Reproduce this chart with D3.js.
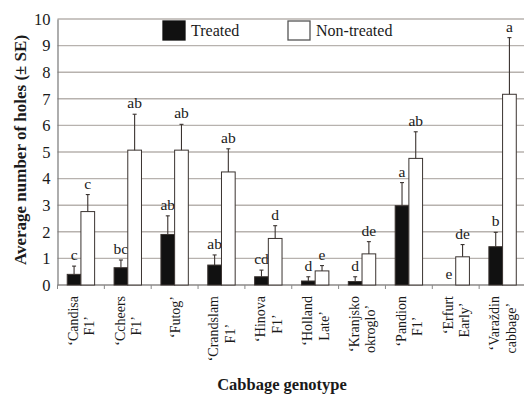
<!DOCTYPE html>
<html>
<head>
<meta charset="utf-8">
<script src="https://cdn.jsdelivr.net/npm/d3@7"></script>
<style>
  html, body { margin: 0; padding: 0; background: #fff; }
  svg { display: block; }
  text { font-family: "Liberation Serif", "Times New Roman", serif; fill: #1a1a1a; }
</style>
</head>
<body>
<svg id="chart" width="524" height="394"></svg>
<script>
// Cabbage genotypes, each label split into its two printed lines
const genotypes = [
  ["\u2018Candisa", "F1\u2019"],
  ["\u2018Ccheers", "F1\u2019"],
  ["\u2018Futog\u2019"],
  ["\u2018Crandslam", "F1\u2019"],
  ["\u2018Hinova", "F1\u2019"],
  ["\u2018Holland", "Late\u2019"],
  ["\u2018Kranjsko", "okroglo\u2019"],
  ["\u2018Pandion", "F1\u2019"],
  ["\u2018Erfurt", "Early\u2019"],
  ["\u2018Vara\u017Edin", "cabbage\u2019"]
];
const seriesNames = ["Treated", "Non-treated"];

// Mean number of holes and standard errors
const treatedMean    = [0.40, 0.65, 1.90, 0.75, 0.31, 0.15, 0.13, 2.98, 0.00, 1.44];
const treatedSE      = [0.31, 0.29, 0.70, 0.38, 0.25, 0.16, 0.18, 0.87, 0.00, 0.54];
const nonTreatedMean = [2.76, 5.07, 5.07, 4.25, 1.75, 0.53, 1.17, 4.76, 1.06, 7.17];
const nonTreatedSE   = [0.64, 1.35, 0.97, 0.87, 0.48, 0.20, 0.46, 1.00, 0.46, 2.13];

// Significance letters
const treatedLetters    = ["c", "bc", "ab", "ab", "cd", "d", "d", "a", "e", "b"];
const nonTreatedLetters = ["c", "ab", "ab", "ab", "d", "e", "de", "ab", "de", "a"];

const yTicks = [0, 1, 2, 3, 4, 5, 6, 7, 8, 9, 10];

const svg = d3.select("#chart");
const plotLeft = 57.5, plotRight = 526, plotTop = 19, plotBottom = 285;

const keys = genotypes.map((g, i) => i);
const x0 = d3.scaleBand().domain(keys).range([plotLeft, plotRight]).padding(0);
const x1 = d3.scaleBand().domain(seriesNames).range([0, x0.bandwidth()])
  .paddingInner(0).paddingOuter(0.71);
const y = d3.scaleLinear().domain([0, 10]).range([plotBottom, plotTop]);

// horizontal gridlines
svg.append("g").selectAll("line").data(yTicks).join("line")
  .attr("x1", plotLeft).attr("x2", 524)
  .attr("y1", d => y(d)).attr("y2", d => y(d))
  .attr("stroke", "#b7b2ae").attr("stroke-width", 1.4);

// y axis
const yAxis = d3.axisLeft(y).tickValues(yTicks).tickSize(0).tickPadding(7);
const gy = svg.append("g").attr("transform", `translate(${plotLeft},0)`).call(yAxis);
gy.select(".domain").attr("stroke", "#777").attr("stroke-width", 1.2);
gy.selectAll("text").attr("font-size", 16.5).attr("fill", "#1a1a1a")
  .style("font-family", '"Liberation Serif", serif');

// x axis with ticks between categories
const gx = svg.append("g").attr("transform", `translate(0,${plotBottom})`);
gx.append("line").attr("x1", plotLeft).attr("x2", 524).attr("y1", 0).attr("y2", 0)
  .attr("stroke", "#888").attr("stroke-width", 1.2);
gx.selectAll("line.tick").data(keys).join("line").attr("class", "tick")
  .attr("x1", d => x0(d)).attr("x2", d => x0(d)).attr("y1", 0).attr("y2", 4)
  .attr("stroke", "#888").attr("stroke-width", 1);

const rows = keys.map(i => ({
  i,
  bars: [
    { s: "Treated", v: treatedMean[i], se: treatedSE[i], lab: treatedLetters[i] },
    { s: "Non-treated", v: nonTreatedMean[i], se: nonTreatedSE[i], lab: nonTreatedLetters[i] }
  ]
}));

const groups = svg.append("g").selectAll("g").data(rows).join("g")
  .attr("transform", d => `translate(${x0(d.i)},0)`);

const bars = groups.selectAll("g").data(d => d.bars).join("g");

bars.filter(d => d.v > 0).append("rect")
  .attr("x", d => x1(d.s)).attr("width", x1.bandwidth())
  .attr("y", d => y(d.v)).attr("height", d => y(0) - y(d.v))
  .attr("fill", d => d.s === "Treated" ? "#111" : "#fff")
  .attr("stroke", "#3a3330").attr("stroke-width", 1);

// upper error bars with a small cap
const eb = bars.filter(d => d.se > 0);
eb.append("line")
  .attr("x1", d => x1(d.s) + x1.bandwidth() / 2).attr("x2", d => x1(d.s) + x1.bandwidth() / 2)
  .attr("y1", d => y(d.v)).attr("y2", d => y(d.v + d.se))
  .attr("stroke", "#3a3330").attr("stroke-width", 1.1);
eb.append("line")
  .attr("x1", d => x1(d.s) + x1.bandwidth() / 2 - 2).attr("x2", d => x1(d.s) + x1.bandwidth() / 2 + 2)
  .attr("y1", d => y(d.v + d.se)).attr("y2", d => y(d.v + d.se))
  .attr("stroke", "#3a3330").attr("stroke-width", 1.1);

// significance letters
bars.append("text")
  .attr("x", d => x1(d.s) + x1.bandwidth() / 2)
  .attr("y", d => y(d.v + d.se) - 6)
  .attr("text-anchor", "middle").attr("font-size", 15.5)
  .text(d => d.lab);

// rotated category labels
const labG = svg.append("g").selectAll("g").data(rows).join("g")
  .attr("transform", d => `translate(${x0(d.i) + x0.bandwidth() / 2},296)`);
labG.each(function(d) {
  const g = d3.select(this);
  const lines = genotypes[d.i];
  const fs = 14;
  if (lines.length === 1) {
    g.append("text").attr("transform", `translate(${fs * 0.35},0) rotate(-90)`)
      .attr("text-anchor", "end").attr("font-size", fs).text(lines[0]);
  } else {
    const t1 = g.append("text").attr("transform", `translate(${-8 + fs * 0.35},0) rotate(-90)`)
      .attr("text-anchor", "end").attr("font-size", fs).text(lines[0]);
    const len = t1.node().getComputedTextLength();
    g.append("text").attr("transform", `translate(${8.5 + fs * 0.35},0) rotate(-90)`)
      .attr("x", -(len / 2 + 5))
      .attr("text-anchor", "middle").attr("font-size", fs).text(lines[1]);
  }
});

// axis titles
svg.append("text").attr("transform", "translate(26,150) rotate(-90)")
  .attr("text-anchor", "middle").attr("font-size", 17).attr("font-weight", "bold")
  .text("Average number of holes (\u00B1 SE)");
svg.append("text").attr("x", 282).attr("y", 389.5)
  .attr("text-anchor", "middle").attr("font-size", 16.5).attr("font-weight", "bold")
  .text("Cabbage genotype");

// legend
const legend = svg.append("g");
const legendItems = [
  { s: "Treated", x: 163 },
  { s: "Non-treated", x: 288 }
];
const li = legend.selectAll("g").data(legendItems).join("g")
  .attr("transform", d => `translate(${d.x},21)`);
li.append("rect").attr("width", 22).attr("height", 19)
  .attr("fill", d => d.s === "Treated" ? "#111" : "#fff")
  .attr("stroke", d => d.s === "Treated" ? "#111" : "#555").attr("stroke-width", 1.3);
li.append("text").attr("x", 28).attr("y", 15).attr("font-size", 16).text(d => d.s);
</script>
</body>
</html>
